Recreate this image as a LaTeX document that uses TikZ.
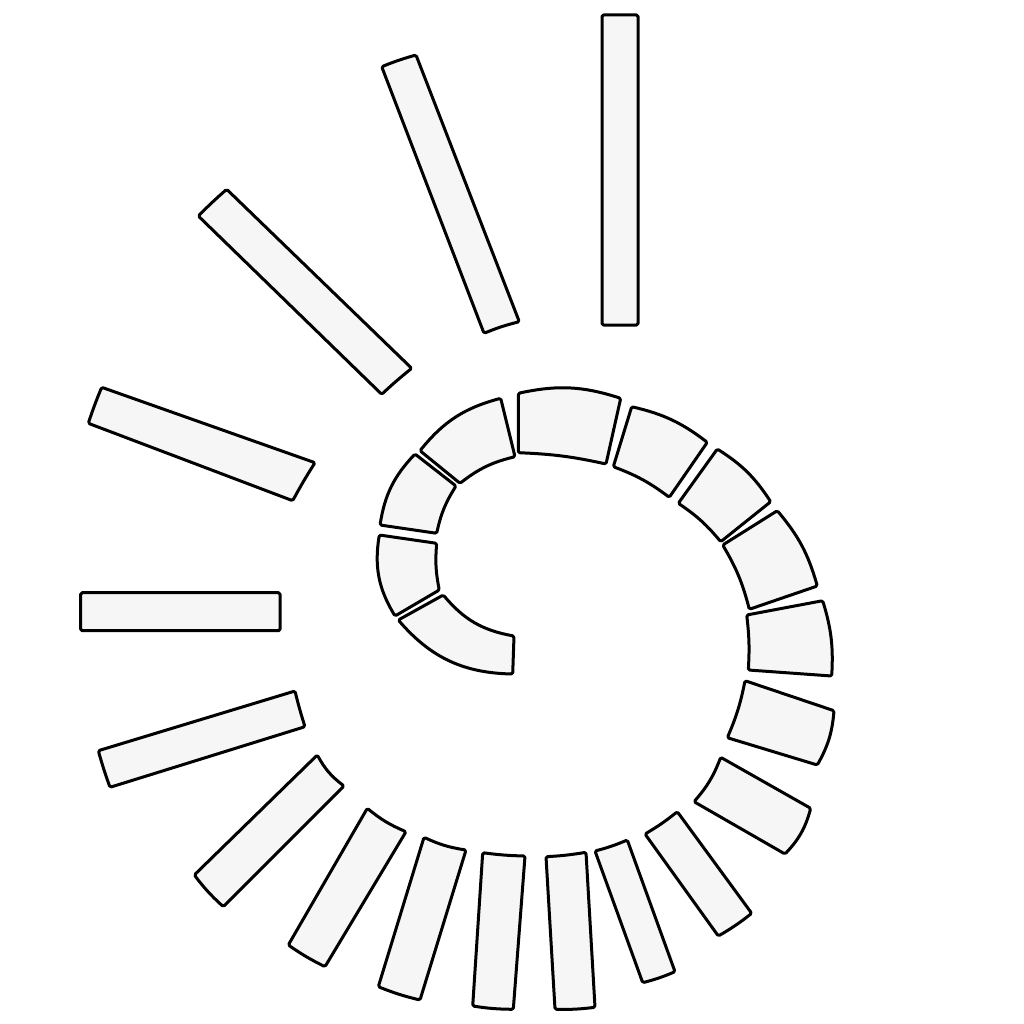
\documentclass[tikz,border=0pt]{standalone}
\usepackage{tikz}
\definecolor{segfill}{HTML}{F6F6F6}
\tikzset{seg/.style={draw=black, fill=segfill, line width=3pt, line join=round, rounded corners=1.5pt}}
\newcommand\sg[6]{\draw[seg] (#1) to[bend left=#5] (#2) -- (#3) to[bend right=#6] (#4) -- cycle;}
\begin{document}
\begin{tikzpicture}[x=1pt,y=-1pt]
\useasboundingbox[fill=white] (0,0) rectangle (1024,1024);
% inner ring segments
\sg{512.7,674}{398.3,620}{443.3,595}{514,636}{24}{20}
\sg{395,616}{379.3,535}{436.7,543.3}{439.3,590}{20}{8}
\sg{380,525}{415,454}{456,486}{436.7,533.3}{17}{10}
\sg{420,450.7}{500.7,398.3}{515,456.7}{460,483.3}{18}{12}
\sg{518.3,393.3}{620.7,398.3}{606,464}{518.3,452.7}{15}{5}
\sg{631.7,406.7}{707.3,442.3}{669.3,497.3}{613.3,466.7}{12}{8}
\sg{717.3,449}{770.7,501.7}{720.7,541.7}{678.3,503.3}{12}{8}
\sg{777.3,510.7}{817.3,586}{749.3,609.3}{722.7,545}{12}{8}
\sg{822.7,600.7}{831.7,676}{748.3,670}{746.7,615}{10}{5}
\sg{834,710.7}{817.3,765}{727.3,737.7}{745,680.7}{12}{6}
\sg{810.7,808.3}{785,854}{694,801.7}{720.7,757.3}{14}{10}
% radial bars
\sg{751.7,913.3}{718.3,936}{645,834}{677.3,811.7}{4}{4}
\sg{675,971.7}{642.7,982.7}{595,851}{627.3,840}{4}{4}
\sg{595,1007.3}{555,1009.3}{546,856.7}{586,852.3}{4}{3}
\sg{513.3,1009.3}{472.7,1006}{482.7,852.7}{525,856}{4}{3}
\sg{420,1000}{378.3,986.7}{424,837.3}{466,850}{4}{8}
\sg{325,966.7}{288.3,945}{367.3,808.3}{406,831.7}{4}{8}
\sg{223.3,906.7}{194.3,875}{317.3,755}{344,786}{5}{12}
\sg{110,787.3}{98.3,750.7}{295,691}{305,726.7}{2}{2}
\sg{80.7,630.7}{80.7,592.7}{280,592.7}{280,630.7}{0}{0}
\sg{88.3,423.3}{101.7,387.3}{315,462.7}{292.7,500.7}{2}{2}
\sg{198.3,216}{226.7,189.3}{411.7,368.3}{381.7,394.3}{2}{2}
\sg{381.7,66.7}{416,55}{519.3,321.7}{484,333.3}{3}{4}
\sg{602,15}{638,15}{638,325}{602,325}{0}{0}
\end{tikzpicture}
\end{document}
